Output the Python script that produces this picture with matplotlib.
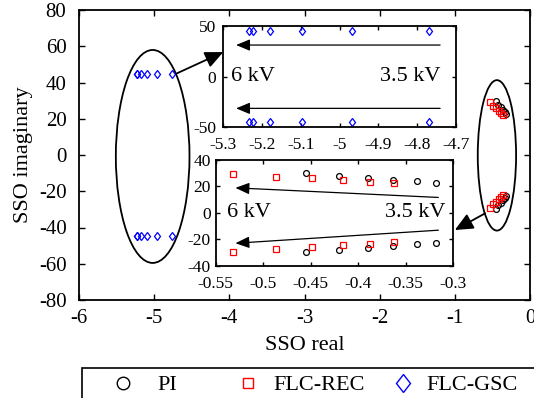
import matplotlib
matplotlib.use("Agg")
import matplotlib.pyplot as plt
from matplotlib.lines import Line2D
from matplotlib.markers import MarkerStyle
from matplotlib.patches import Ellipse, Rectangle
from matplotlib.transforms import Affine2D

plt.rcParams["font.family"] = ["Liberation Serif", "DejaVu Serif"]
plt.rcParams["axes.unicode_minus"] = False

# Eigenvalues (real, imaginary part of the upper branch) of the SSO mode
# for DC voltages from 3.5 kV (right) to 6 kV (left)
pi_real = [-0.4547, -0.4201, -0.3890, -0.3627, -0.3382, -0.3176]
pi_imag = [29.7, 27.7, 26.3, 24.9, 23.7, 22.7]
rec_real = [-0.5318, -0.4867, -0.4484, -0.4159, -0.3869, -0.3617]
rec_imag = [29.4, 27.2, 25.8, 24.3, 23.3, 22.2]
gsc_real = [-5.235, -5.223, -5.179, -5.097, -4.968, -4.769]
gsc_imag = [44.6, 44.6, 44.6, 44.6, 44.6, 44.6]

labels = ["PI", "FLC-REC", "FLC-GSC"]
main_xticks = [-6, -5, -4, -3, -2, -1, 0]
main_yticks = [-80, -60, -40, -20, 0, 20, 40, 60, 80]
gsc_xticks = [-5.3, -5.2, -5.1, -5.0, -4.9, -4.8, -4.7]
gsc_xticklabels = ["-5.3", "-5.2", "-5.1", "-5", "-4.9", "-4.8", "-4.7"]
gsc_yticks = [-50, 0, 50]
low_xticks = [-0.55, -0.5, -0.45, -0.4, -0.35, -0.3]
low_xticklabels = ["-0.55", "-0.5", "-0.45", "-0.4", "-0.35", "-0.3"]
low_yticks = [-40, -20, 0, 20, 40]

W, H = 534, 398
fig = plt.figure(figsize=(W / 100, H / 100), dpi=100)


def px_axes(left, top, right, bottom):
    return fig.add_axes([left / W, 1 - bottom / H, (right - left) / W, (bottom - top) / H])


diamond = MarkerStyle("D", transform=Affine2D().scale(0.8, 1.0))
STYLE = {
    "PI": dict(marker="o", mec="black", ms=4.2),
    "FLC-REC": dict(marker="s", mec="red", ms=4.0),
    "FLC-GSC": dict(marker=diamond, mec="blue", ms=3.8),
}
series = {
    "PI": (pi_real, pi_imag),
    "FLC-REC": (rec_real, rec_imag),
    "FLC-GSC": (gsc_real, gsc_imag),
}


def conj(vals):
    return list(vals) + [-v for v in vals]


def plot_series(ax, names):
    for name in names:
        xr, yi = series[name]
        ax.plot(list(xr) + list(xr), conj(yi), ls="none", mfc="none", mew=0.9,
                **STYLE[name])


def style_axes(ax, size, length, xpad, ypad):
    for s in ax.spines.values():
        s.set_linewidth(1.3)
    ax.tick_params(direction="in", top=True, right=True, labelsize=size,
                   length=length, width=1.0)
    ax.tick_params(axis="x", pad=xpad)
    ax.tick_params(axis="y", pad=ypad)


# Main plane
ax = px_axes(79, 10, 530, 300)
plot_series(ax, labels)
ax.set_xlim(-6, 0)
ax.set_ylim(-80, 80)
ax.set_xticks(main_xticks)
ax.set_yticks(main_yticks)
style_axes(ax, 15, 4, 6.5, 9)
ax.set_xlabel("SSO real", fontsize=16)
ax.set_ylabel("SSO imaginary", fontsize=16)
ax.xaxis.set_label_coords(0.5, -0.124)
ax.yaxis.set_label_coords(-0.102, 0.5)

ax.add_patch(Ellipse((-5.02, -0.8), 0.98, 117.5, fill=False, lw=1.3, ec="black"))
ax.add_patch(Ellipse((-0.44, -0.2), 0.51, 83, fill=False, lw=1.3, ec="black"))

arrow_main = dict(arrowstyle="-|>,head_length=0.55,head_width=0.25", color="black",
                  lw=1.3, shrinkA=0, shrinkB=0, mutation_scale=20)
ax.annotate("", xy=(-4.08, 56.8), xytext=(-4.70, 45.0), arrowprops=arrow_main,
            annotation_clip=False, zorder=10)
ax.annotate("", xy=(-1.0, -41.4), xytext=(-0.598, -32.2), arrowprops=arrow_main,
            annotation_clip=False, zorder=10)

arrow_in = dict(arrowstyle="-|>,head_length=0.6,head_width=0.25", color="black",
                lw=0.9, shrinkA=0, shrinkB=0, mutation_scale=14)

# Zoom on FLC-GSC eigenvalues
ax1 = px_axes(223.3, 26, 456, 127.3)
plot_series(ax1, ["FLC-GSC"])
ax1.set_xlim(-5.3, -4.7)
ax1.set_ylim(-50, 50)
ax1.set_xticks(gsc_xticks)
ax1.set_xticklabels(gsc_xticklabels)
ax1.set_yticks(gsc_yticks)
style_axes(ax1, 12.5, 3, 7, 5)
for y in (31.2, -31.3):
    ax1.annotate("", xy=(-5.267, y), xytext=(-4.741, y), arrowprops=arrow_in)
ax1.text(-5.28, 0, "6 kV", fontsize=16, ha="left", va="center")
ax1.text(-4.741, 0, "3.5 kV", fontsize=16, ha="right", va="center")

# Zoom on PI and FLC-REC eigenvalues
ax2 = px_axes(215.5, 159.5, 453, 266)
plot_series(ax2, ["PI", "FLC-REC"])
ax2.set_xlim(-0.55, -0.3)
ax2.set_ylim(-40, 40)
ax2.set_xticks(low_xticks)
ax2.set_xticklabels(low_xticklabels)
ax2.set_yticks(low_yticks)
style_axes(ax2, 12.5, 3, 7.5, 3.5)
ax2.annotate("", xy=(-0.529, 18.7), xytext=(-0.3154, 11.5), arrowprops=arrow_in)
ax2.annotate("", xy=(-0.529, -22.9), xytext=(-0.3154, -13.1), arrowprops=arrow_in)
ax2.text(-0.5377, 0, "6 kV", fontsize=16, ha="left", va="center")
ax2.text(-0.3084, 0, "3.5 kV", fontsize=16, ha="right", va="center")

# Legend strip along the bottom
fig.patches.append(Rectangle((81.7 / W, -0.05), 1.0, 1 - 368.3 / H + 0.05,
                             transform=fig.transFigure, fill=False, lw=1.2,
                             ec="black", zorder=5))
leg_handles = [
    Line2D([], [], ls="none", marker="o", mec="black", mfc="none", ms=9, mew=1.0),
    Line2D([], [], ls="none", marker="s", mec="red", mfc="none", ms=7.5, mew=1.0),
    Line2D([], [], ls="none", marker=MarkerStyle("D", transform=Affine2D().scale(0.78, 1.0)),
           mec="blue", mfc="none", ms=9, mew=1.0),
]
marker_x = [123.3, 248.3, 403.3]
text_x = [157.0, 273.3, 426.7]
hl = 1.0
fs_px = 16 / 72 * 100
for h, lab, mx, tx in zip(leg_handles, labels, marker_x, text_x):
    half = hl * fs_px / 2
    fig.legend([h], [lab], loc="center left",
               bbox_to_anchor=((mx - half) / W, 1 - 385 / H),
               frameon=False, fontsize=16, handlelength=hl,
               handletextpad=(tx - mx - half) / fs_px, borderpad=0, borderaxespad=0)

fig.savefig("out.png", dpi=100)
